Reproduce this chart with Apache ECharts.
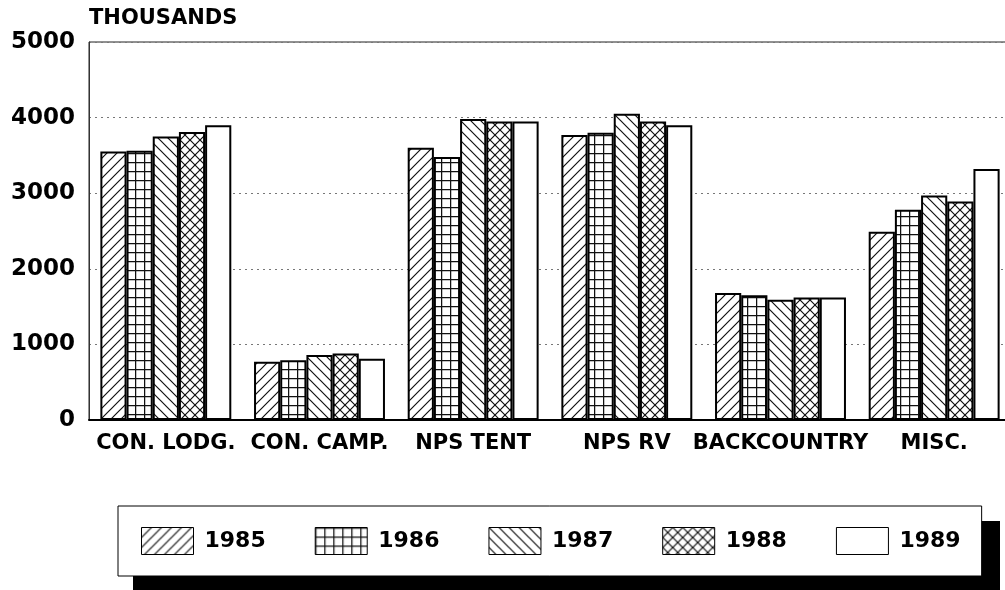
<!DOCTYPE html>
<html>
<head>
<meta charset="utf-8">
<script src="https://cdn.jsdelivr.net/npm/echarts@6/dist/echarts.min.js"></script>
<style>
  html, body { margin: 0; padding: 0; background: #fff; }
  #chartDom { width: 1005px; height: 590px; }
</style>
</head>
<body>
<div id="chartDom"></div>
<script>
// categories and values (thousands)
var categories = ['CON. LODG.', 'CON. CAMP.', 'NPS TENT', 'NPS RV', 'BACKCOUNTRY', 'MISC.'];
var years = ['1985', '1986', '1987', '1988', '1989'];
var v1985 = [3550, 770, 3600, 3770, 1680, 2490];
var v1986 = [3560, 790, 3480, 3800, 1650, 2780];
var v1987 = [3750, 860, 3980, 4050, 1590, 2970];
var v1988 = [3810, 880, 3950, 3950, 1620, 2890];
var v1989 = [3900, 810, 3950, 3900, 1620, 3320];
var yTicks = [0, 1000, 2000, 3000, 4000, 5000];

// hatch tiles
function makeTile(kind) {
    if (kind === 'none') return '#fff';
    var s = kind === 'grid' ? 9 : 10;
    var c = document.createElement('canvas');
    c.width = s; c.height = s;
    var g = c.getContext('2d');
    g.fillStyle = '#fff';
    g.fillRect(0, 0, s, s);
    g.strokeStyle = '#111';
    g.lineWidth = 1.2;
    function fwd() {
        g.beginPath();
        g.moveTo(0, s); g.lineTo(s, 0);
        g.moveTo(-1, 1); g.lineTo(1, -1);
        g.moveTo(s - 1, s + 1); g.lineTo(s + 1, s - 1);
        g.stroke();
    }
    function back() {
        g.beginPath();
        g.moveTo(0, 0); g.lineTo(s, s);
        g.moveTo(-1, s - 1); g.lineTo(1, s + 1);
        g.moveTo(s - 1, -1); g.lineTo(s + 1, 1);
        g.stroke();
    }
    if (kind === 'fwd') fwd();
    if (kind === 'back') back();
    if (kind === 'cross') { fwd(); back(); }
    if (kind === 'grid') {
        g.lineWidth = 1.5;
        g.beginPath();
        g.moveTo(0, 0.5); g.lineTo(s, 0.5);
        g.moveTo(0.5, 0); g.lineTo(0.5, s);
        g.stroke();
    }
    return { image: c, repeat: 'repeat' };
}
var fills = [makeTile('fwd'), makeTile('grid'), makeTile('back'), makeTile('cross'), makeTile('none')];
var values = [v1985, v1986, v1987, v1988, v1989];

var chartDom = echarts.init(document.getElementById('chartDom'));
var font = '"DejaVu Sans", sans-serif';

chartDom.setOption({
    backgroundColor: '#fff',
    animation: false,
    grid: {
        left: 89, width: 922, top: 42, bottom: 170,
        outerBoundsMode: 'none',
        show: true, borderColor: '#222', borderWidth: 1
    },
    // legend drop shadow
    graphic: [{
        type: 'rect', z: 0,
        shape: { x: 133, y: 521, width: 867, height: 69 },
        style: { fill: '#000' }
    }],
    legend: {
        data: years,
        icon: 'rect',
        left: 118, top: 506, z: 10,
        padding: [21, 21, 21, 23],
        itemWidth: 52, itemHeight: 27, itemGap: 49,
        backgroundColor: '#fff',
        borderColor: '#000', borderWidth: 1,
        itemStyle: { borderColor: '#000', borderWidth: 1 },
        textStyle: { fontFamily: font, fontWeight: 'bold', fontSize: 22, color: '#000', padding: [0, 0, 0, 6] }
    },
    xAxis: {
        type: 'category',
        data: categories,
        axisLine: { lineStyle: { color: '#000', width: 2 } },
        axisTick: { show: false },
        axisLabel: {
            interval: 0,
            color: '#000', fontFamily: font, fontWeight: 'bold',
            fontSize: 21, margin: 13
        }
    },
    yAxis: {
        type: 'value',
        min: yTicks[0], max: yTicks[yTicks.length - 1], interval: 1000,
        name: 'THOUSANDS',
        nameLocation: 'end',
        nameGap: 23,
        nameTextStyle: {
            align: 'left', verticalAlign: 'middle', color: '#000',
            fontFamily: font, fontWeight: 'bold', fontSize: 21
        },
        axisLine: { show: true, lineStyle: { color: '#333', width: 1 } },
        axisTick: { show: false },
        axisLabel: {
            color: '#000', fontFamily: font, fontWeight: 'bold',
            fontSize: 23, margin: 14,
            formatter: function (v) { return String(v); }
        },
        splitLine: { lineStyle: { color: '#777', type: [2, 4], width: 1 } }
    },
    series: years.map(function (y, i) {
        return {
            name: y,
            type: 'bar',
            data: values[i],
            barGap: '0%',
            barCategoryGap: '14.8%',
            itemStyle: { color: fills[i], borderColor: '#000', borderWidth: 2 }
        };
    })
});
</script>
</body>
</html>
